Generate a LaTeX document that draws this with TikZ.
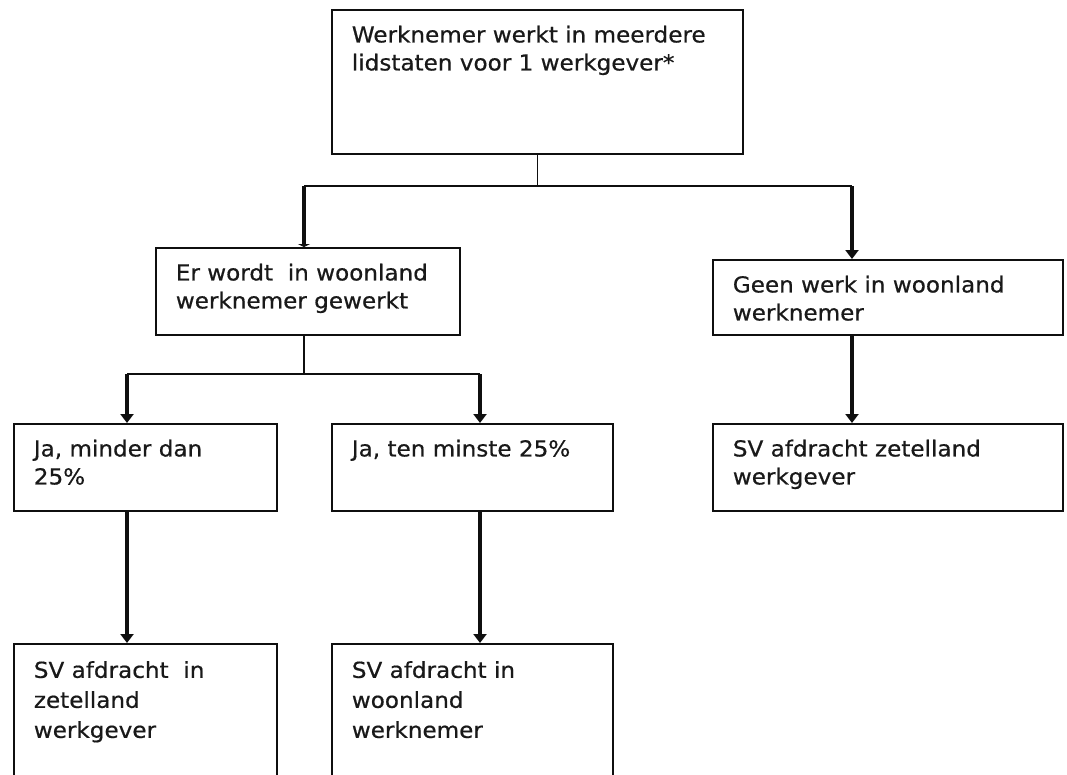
\documentclass[tikz,border=0pt]{standalone}
\usepackage{fontspec}
\setmainfont[FakeStretch=1.05,FakeBold=0.6]{DejaVu Sans}
\usepackage{tikz}
\usetikzlibrary{arrows.meta, positioning, calc}
\definecolor{lijnkleur}{RGB}{15,15,15}
\definecolor{tekstkleur}{RGB}{25,25,25}
\tikzset{
  >=latex,
  % Vakken
  vak/.style={draw=lijnkleur,line width=1.7pt,anchor=north west,inner xsep=20pt,inner ysep=13pt,
    text=tekstkleur,font={\fontsize{22}{28}\selectfont}},
  vak onder/.style={vak,font={\fontsize{22}{30}\selectfont}},
  % Verbindingen
  lijn/.style={draw=lijnkleur,line width=1.7pt},
  pijl/.style={-{Triangle[length=9pt,width=13pt]},draw=lijnkleur,line width=3.8pt},
  pijl kort/.style={pijl,-{Triangle[length=3pt,width=12pt]}}
}
\newcommand{\vaktekst}[3]{\parbox[t][#2][t]{#1}{\raggedright\strut#3}}

\begin{document}
\begin{tikzpicture}[x=1pt,y=-1pt]
  \useasboundingbox (0,0) rectangle (1067,774);
  \clip (0,0) rectangle (1067,774);
  % vakken
  \node[vak] (top) at (331,9) {\vaktekst{371pt}{118pt}{Werknemer werkt in meerdere\\lidstaten voor 1 werkgever*}};
  \node[vak] (woon) at (155,247) {\vaktekst{264pt}{61pt}{Er wordt~ in woonland\\werknemer gewerkt}};
  \node[vak] (geen) at (712,259) {\vaktekst{310pt}{49pt}{Geen werk in woonland\\werknemer}};
  \node[vak] (ja1) at (13,423) {\vaktekst{223pt}{61pt}{Ja, minder dan\\25\%}};
  \node[vak] (ja2) at (331,423) {\vaktekst{241pt}{61pt}{Ja, ten minste 25\%}};
  \node[vak] (zet) at (712,423) {\vaktekst{310pt}{61pt}{SV afdracht zetelland\\werkgever}};
  \node[vak onder] (sv1) at (13,643) {\vaktekst{223pt}{124pt}{SV afdracht~ in\\zetelland\\werkgever}};
  \node[vak onder] (sv2) at (331,643) {\vaktekst{241pt}{124pt}{SV afdracht in\\woonland\\werknemer}};
  % knikpunten
  \coordinate (k1) at (304,186);
  \coordinate (k2) at (852,186);
  \coordinate (s2) at (304,374);
  \coordinate (k3) at (127,374);
  \coordinate (k4) at (480,374);
  % verbindingen
  \draw[lijn] (top.south) -- (top.south |- k1);
  \draw[lijn] (k1) -- (k2);
  \draw[pijl kort] (k1) -- (k1 |- woon.north);
  \draw[pijl] (k2) -- (k2 |- geen.north);
  \draw[lijn] (s2 |- woon.south) -- (s2);
  \draw[lijn] (k3) -- (k4);
  \draw[pijl] (k3) -- (k3 |- ja1.north);
  \draw[pijl] (k4) -- (k4 |- ja2.north);
  \draw[pijl] (k2 |- geen.south) -- (k2 |- zet.north);
  \draw[pijl] (k3 |- ja1.south) -- (k3 |- sv1.north);
  \draw[pijl] (k4 |- ja2.south) -- (k4 |- sv2.north);
\end{tikzpicture}
\end{document}
